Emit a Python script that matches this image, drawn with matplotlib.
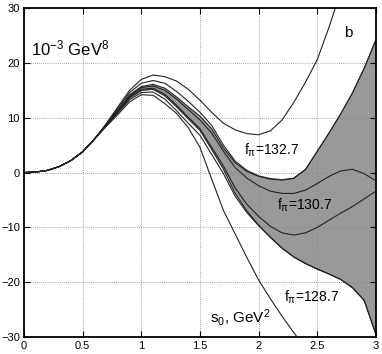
import matplotlib
matplotlib.use("Agg")
import matplotlib.pyplot as plt
import numpy as np

plt.rcParams['font.family'] = ['Liberation Sans', 'DejaVu Sans']
plt.rcParams['mathtext.fontset'] = 'custom'
plt.rcParams['mathtext.rm'] = 'Liberation Sans'
plt.rcParams['mathtext.it'] = 'Liberation Sans'
plt.rcParams['mathtext.bf'] = 'Liberation Sans'

# s0 grid (GeV^2)
s0 = np.round(np.arange(0, 3.01, 0.1), 2)

# common rising part (s0 = 0 .. 0.6)
rise = [0, 0.1, 0.4, 1.1, 2.2, 3.8, 6.1]

# f_pi = 132.7, upper curve
curve_a = rise + [8.9, 12.0, 15.0, 17.0, 17.8, 17.5, 16.7, 15.2, 13.2, 11.0, 9.0, 7.8, 7.1, 6.9,
                  7.6, 9.6, 12.8, 16.5, 20.6, 26.5, 33.0, 40.0, 47.0, 54.0]
# curve just above the band
curve_b = rise + [8.8, 11.7, 14.6, 16.3, 16.8, 16.3, 14.8, 13.0, 11.0, 8.6, 5.0, 2.1, 0.4, -0.6,
                  -1.1, -1.3, -1.0, 0.6, 3.9, 7.2, 10.7, 14.5, 19.0, 24.2]
# band upper edge
band_top = rise + [8.7, 11.4, 14.2, 15.7, 16.1, 15.4, 13.8, 12.0, 10.3, 8.0, 4.5, 1.8, 0.2, -0.7,
                   -1.2, -1.4, -1.1, 0.5, 3.8, 7.2, 10.7, 14.5, 19.0, 24.2]
# f_pi = 130.7 curves (inside the band)
inner_1 = rise + [8.7, 11.3, 14.0, 15.5, 15.8, 15.0, 13.4, 11.5, 9.6, 7.2, 3.9, 0.9, -1.0, -2.4,
                  -3.4, -3.8, -3.8, -3.2, -2.0, -0.7, 0.3, 0.6, -0.2, -1.5]
inner_2 = rise + [8.6, 11.2, 13.8, 15.2, 15.4, 14.3, 12.3, 10.1, 8.0, 4.6, 1.2, -2.8, -5.8, -8.0,
                  -9.8, -11.0, -11.4, -11.0, -10.0, -8.7, -7.4, -6.2, -4.8, -3.4]
# band lower edge
band_bot = rise + [8.6, 11.1, 13.6, 15.0, 15.2, 14.0, 12.0, 9.8, 7.7, 4.2, 0.6, -3.8, -7.0, -9.6,
                   -11.8, -13.8, -15.4, -16.6, -17.6, -18.5, -19.5, -21.0, -23.3, -29.5]
# curve just below the band
curve_e = rise + [8.5, 10.9, 13.3, 14.6, 14.7, 13.4, 11.3, 9.0, 6.8, 3.3, -0.2, -4.3, -7.3, -9.7,
                  -11.8, -13.8, -15.4, -16.6, -17.6, -18.5, -19.5, -21.0, -23.3, -29.5]
# f_pi = 128.7, lowest curve
curve_f = rise + [8.4, 10.6, 12.9, 14.2, 14.1, 12.6, 10.8, 8.2, 4.6, -1.2, -6.9, -11.2, -15.5, -19.6,
                  -23.0, -26.2, -29.2, -32.0, -35.0, -38.0, -41.0, -44.0, -47.0, -50.0]

fig = plt.figure(figsize=(3.82, 3.54), dpi=100)
ax = fig.add_axes([0.063, 0.048, 0.921, 0.929])

ax.fill_between(s0, band_bot, band_top, color='#999999', lw=0)
for y in [curve_a, curve_b, band_top, inner_1, inner_2, band_bot, curve_e, curve_f]:
    ax.plot(s0, y, color='#222222', lw=0.8)

ax.set_xlim(0, 3)
ax.set_ylim(-30, 30)
ax.set_xticks([0, 0.5, 1, 1.5, 2, 2.5, 3])
ax.set_xticklabels(['0', '0.5', '1', '1.5', '2', '2.5', '3'])
ax.set_yticks([-30, -20, -10, 0, 10, 20, 30])
ax.grid(True, linestyle=(0, (1, 1.5)), color='#888888', lw=0.6)
ax.tick_params(direction='in', top=True, right=True, labelsize=8, length=4, pad=3)
for sp in ax.spines.values():
    sp.set_linewidth(1.3)

ax.text(0.06, 22.6, r'10$^{-3}$ GeV$^8$', fontsize=12, va='center')
ax.text(2.73, 25.5, 'b', fontsize=11, va='center')
ax.text(2.11, 4.1, r'f$_{π}$=132.7', fontsize=10, ha='center', va='center')
ax.text(2.39, -5.9, r'f$_{π}$=130.7', fontsize=10, ha='center', va='center')
ax.text(2.45, -22.7, r'f$_{π}$=128.7', fontsize=10, ha='center', va='center')
ax.text(1.84, -26.5, r's$_0$, GeV$^2$', fontsize=11, ha='center', va='center')

fig.savefig('out.png', dpi=100)
